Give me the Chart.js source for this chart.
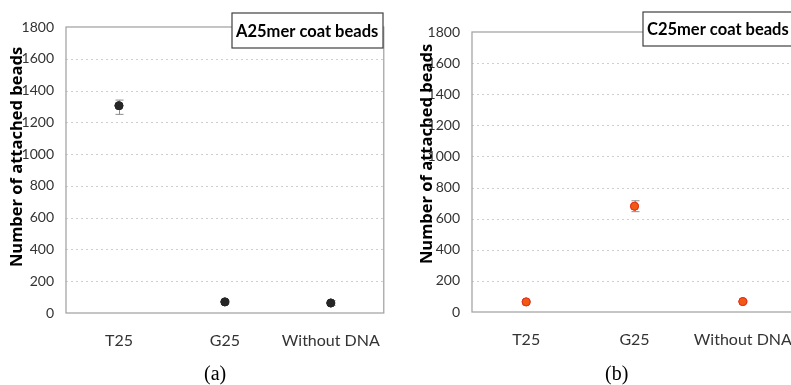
<!DOCTYPE html>
<html>
<head>
<meta charset="utf-8">
<script src="https://cdn.jsdelivr.net/npm/chart.js@4"></script>
<style>
  html, body { margin:0; padding:0; background:#fff; overflow:hidden; width:791px; height:385px; }
  .wrap { position:absolute; top:0; height:385px; }
  #wa { left:0; width:400px; }
  #wb { left:400px; width:460px; }
  .cap { position:absolute; top:362px; font-family:"Liberation Serif", serif; font-size:20px; color:#000; }
</style>
</head>
<body>
<div class="wrap" id="wa"><canvas id="ca" width="400" height="385"></canvas></div>
<div class="wrap" id="wb"><canvas id="cb" width="460" height="385"></canvas></div>
<div class="cap" style="left:204px;">(a)</div>
<div class="cap" style="left:605px;">(b)</div>
<script>
// ---- data ----
const categories = ["T25", "G25", "Without DNA"];
const yTicks = [0, 200, 400, 600, 800, 1000, 1200, 1400, 1600, 1800];

const aTitle = "A25mer coat beads";
const aValues = [1305, 70, 63];
const aErrLow = [1250, 62, 48];
const aErrHigh = [1340, 78, 78];

const bTitle = "C25mer coat beads";
const bValues = [65, 680, 67];
const bErrLow = [58, 645, 60];
const bErrHigh = [72, 715, 74];

const yTitle = "Number of attached beads";

// ---- plugins ----
const framePlugin = {
  id: 'frame',
  beforeDatasetsDraw(chart) {
    const a = chart.chartArea, ctx = chart.ctx, y = chart.scales.y;
    ctx.save();
    ctx.strokeStyle = '#cfcfcf';
    ctx.lineWidth = 1;
    ctx.setLineDash([2, 3]);
    y.ticks.forEach(t => {
      if (t.value === 0 || t.value === 1800) return;
      const py = Math.round(y.getPixelForValue(t.value)) + 0.5;
      ctx.beginPath(); ctx.moveTo(a.left, py); ctx.lineTo(a.right, py); ctx.stroke();
    });
    ctx.setLineDash([]);
    ctx.strokeStyle = '#a6a6a6';
    ctx.lineWidth = 1.3;
    ctx.strokeRect(a.left, a.top, a.right - a.left, a.bottom - a.top);
    ctx.restore();
  }
};

const errorBarPlugin = {
  id: 'errbars',
  afterDatasetsDraw(chart, args, opts) {
    const ctx = chart.ctx, x = chart.scales.x, y = chart.scales.y;
    ctx.save();
    ctx.strokeStyle = opts.color || '#808080';
    ctx.lineWidth = 1;
    opts.low.forEach((lo, i) => {
      const px = Math.round(x.getPixelForValue(i)) + 0.5;
      const p1 = y.getPixelForValue(lo), p2 = y.getPixelForValue(opts.high[i]);
      ctx.beginPath();
      ctx.moveTo(px, p1); ctx.lineTo(px, p2);
      ctx.moveTo(px - 4, p1); ctx.lineTo(px + 4, p1);
      ctx.moveTo(px - 4, p2); ctx.lineTo(px + 4, p2);
      ctx.stroke();
    });
    ctx.restore();
    chart.getDatasetMeta(0).data.forEach(pt => pt.draw(ctx, chart.chartArea));
  }
};

const overlayPlugin = {
  id: 'overlay',
  afterDraw(chart, args, opts) {
    const ctx = chart.ctx;
    ctx.save();
    ctx.translate(opts.yTitleX, opts.yTitleY);
    ctx.rotate(-Math.PI / 2);
    ctx.textAlign = 'center';
    ctx.textBaseline = 'middle';
    ctx.fillStyle = '#000';
    ctx.font = 'bold 16.5px "Open Sans"';
    ctx.fillText(opts.yTitle, 0, 0);
    ctx.restore();
    ctx.save();
    const b = opts.box;
    ctx.fillStyle = '#fff';
    ctx.fillRect(b.x, b.y, b.w, b.h);
    ctx.strokeStyle = '#404040';
    ctx.lineWidth = 1.2;
    ctx.strokeRect(b.x, b.y, b.w, b.h);
    ctx.fillStyle = '#000';
    ctx.font = 'bold 16.5px Lato';
    ctx.textAlign = 'left';
    ctx.textBaseline = 'middle';
    ctx.fillText(opts.title, b.x + 4, b.y + b.h / 2 + 1);
    ctx.restore();
  }
};

function makeChart(id, values, lo, hi, title, colors, layout) {
  return new Chart(document.getElementById(id), {
    type: 'line',
    data: {
      labels: categories,
      datasets: [{
        data: values,
        showLine: false,
        pointRadius: 4,
        pointBackgroundColor: colors.fill,
        pointBorderColor: colors.border,
        pointBorderWidth: 1
      }]
    },
    options: {
      responsive: false,
      animation: false,
      events: [],
      layout: { padding: layout.padding },
      plugins: {
        legend: { display: false },
        tooltip: { enabled: false },
        errbars: { low: lo, high: hi, color: '#8c8c8c' },
        overlay: { yTitle: yTitle, yTitleX: layout.yTitleX, yTitleY: layout.yTitleY, title: title, box: layout.box }
      },
      scales: {
        x: {
          type: 'category',
          offset: true,
          grid: { display: false, drawTicks: false },
          border: { display: false },
          ticks: { color: '#333', font: { family: 'Lato', size: 16 }, padding: 18 },
          afterFit(s) { s.height = layout.xHeight; }
        },
        y: {
          min: 0, max: 1800,
          afterBuildTicks(s) { s.ticks = yTicks.map(v => ({ value: v })); },
          grid: { display: false, drawTicks: false },
          border: { display: false },
          ticks: { color: '#333', font: { family: 'Lato', size: 14 }, padding: 12,
                   callback: (v) => String(v) },
          afterFit(s) { s.width = layout.yWidth; }
        }
      }
    },
    plugins: [framePlugin, errorBarPlugin, overlayPlugin]
  });
}

makeChart('ca', aValues, aErrLow, aErrHigh, aTitle,
  { fill: '#262626', border: '#262626' },
  { padding: { top: 27, right: 13, left: 0, bottom: 0 }, yWidth: 66, xHeight: 72,
    yTitleX: 17, yTitleY: 157, box: { x: 232, y: 13, w: 151, h: 35 } });

makeChart('cb', bValues, bErrLow, bErrHigh, bTitle,
  { fill: '#f25a14', border: '#e2301c' },
  { padding: { top: 32, right: 63, left: 0, bottom: 0 }, yWidth: 72, xHeight: 73,
    yTitleX: 27, yTitleY: 154, box: { x: 243, y: 12, w: 160, h: 34 } });
</script>
</body>
</html>
